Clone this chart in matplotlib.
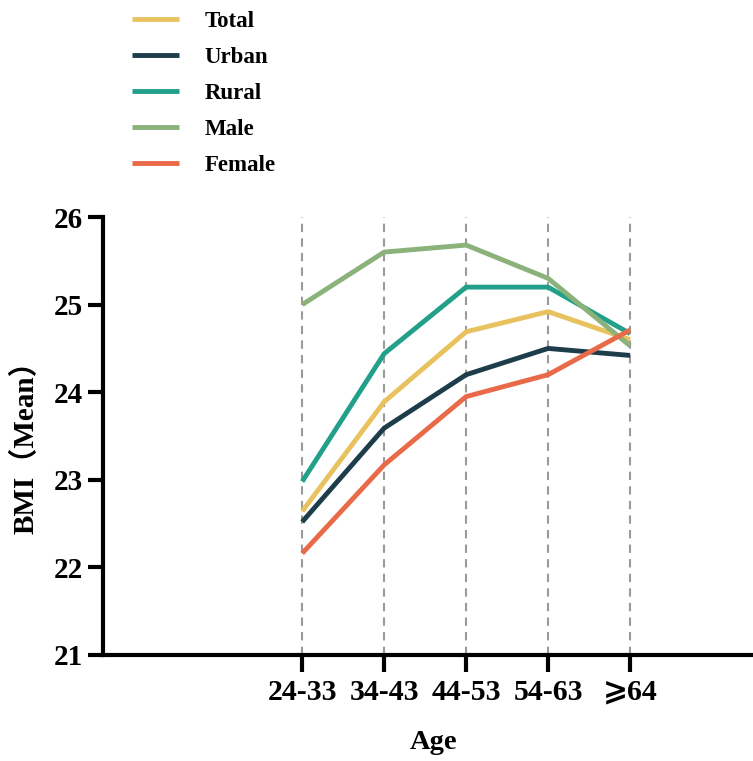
import matplotlib.pyplot as plt
import numpy as np

ages = ['24-33', '34-43', '44-53', '54-63', '⩾64']
total = [22.64, 23.89, 24.69, 24.92, 24.60]
urban = [22.52, 23.59, 24.20, 24.50, 24.42]
rural = [22.98, 24.44, 25.20, 25.20, 24.67]
male = [25.00, 25.60, 25.68, 25.30, 24.53]
female = [22.16, 23.17, 23.95, 24.20, 24.71]

series = [
    ('Total', total, '#E8C25E'),
    ('Urban', urban, '#1E3D4A'),
    ('Rural', rural, '#22A08A'),
    ('Male', male, '#8AB27A'),
    ('Female', female, '#E86A48'),
]

plt.rcParams['font.family'] = ['Liberation Serif', 'DejaVu Sans', 'Noto Sans CJK SC']
plt.rcParams['font.weight'] = 'bold'

fig = plt.figure(figsize=(7.53, 7.61), dpi=100)
ax = fig.add_axes([0.1368, 0.1393, 0.8632, 0.5755])

x = np.arange(len(ages))
for xi in x:
    ax.axvline(xi, color='#9a9a9a', linestyle=(0, (4, 3)), linewidth=1.5, zorder=1)

for name, vals, color in series:
    ax.plot(x, vals, color=color, linewidth=3.5, label=name, zorder=3,
            solid_capstyle='butt')

ax.set_xlim(-2.43, 5.5)
ax.set_ylim(21, 26)
ax.set_yticks([21, 22, 23, 24, 25, 26])
ax.set_xticks(x)
ax.set_xticklabels(ages)

for s in ['top', 'right']:
    ax.spines[s].set_visible(False)
for s in ['left', 'bottom']:
    ax.spines[s].set_linewidth(3)

ax.tick_params(axis='y', length=11, width=3, labelsize=21, pad=3.5)
ax.tick_params(axis='x', length=12, width=3, labelsize=21.5, pad=5)
for lab in ax.get_xticklabels() + ax.get_yticklabels():
    lab.set_fontweight('bold')

# reference crops the bottom of "Age"; keep it just inside the canvas
ax.set_xlabel('Age', fontsize=20.5, fontweight='bold')
ax.xaxis.set_label_coords(0.508, -0.172)
ax.xaxis.label.set_va('top')
ax.set_ylabel('BMI（Mean）', fontsize=21, fontweight='bold')
ax.yaxis.set_label_coords(-0.097, 0.491)

fig.legend(loc='upper left', bbox_to_anchor=(132 / 753, 1 - 10.5 / 761),
           frameon=False, handlelength=2.05, handletextpad=1.13,
           labelspacing=0.66, borderpad=0, borderaxespad=0,
           prop={'weight': 'bold', 'size': 16.5})

fig.savefig('out.png', dpi=100)
